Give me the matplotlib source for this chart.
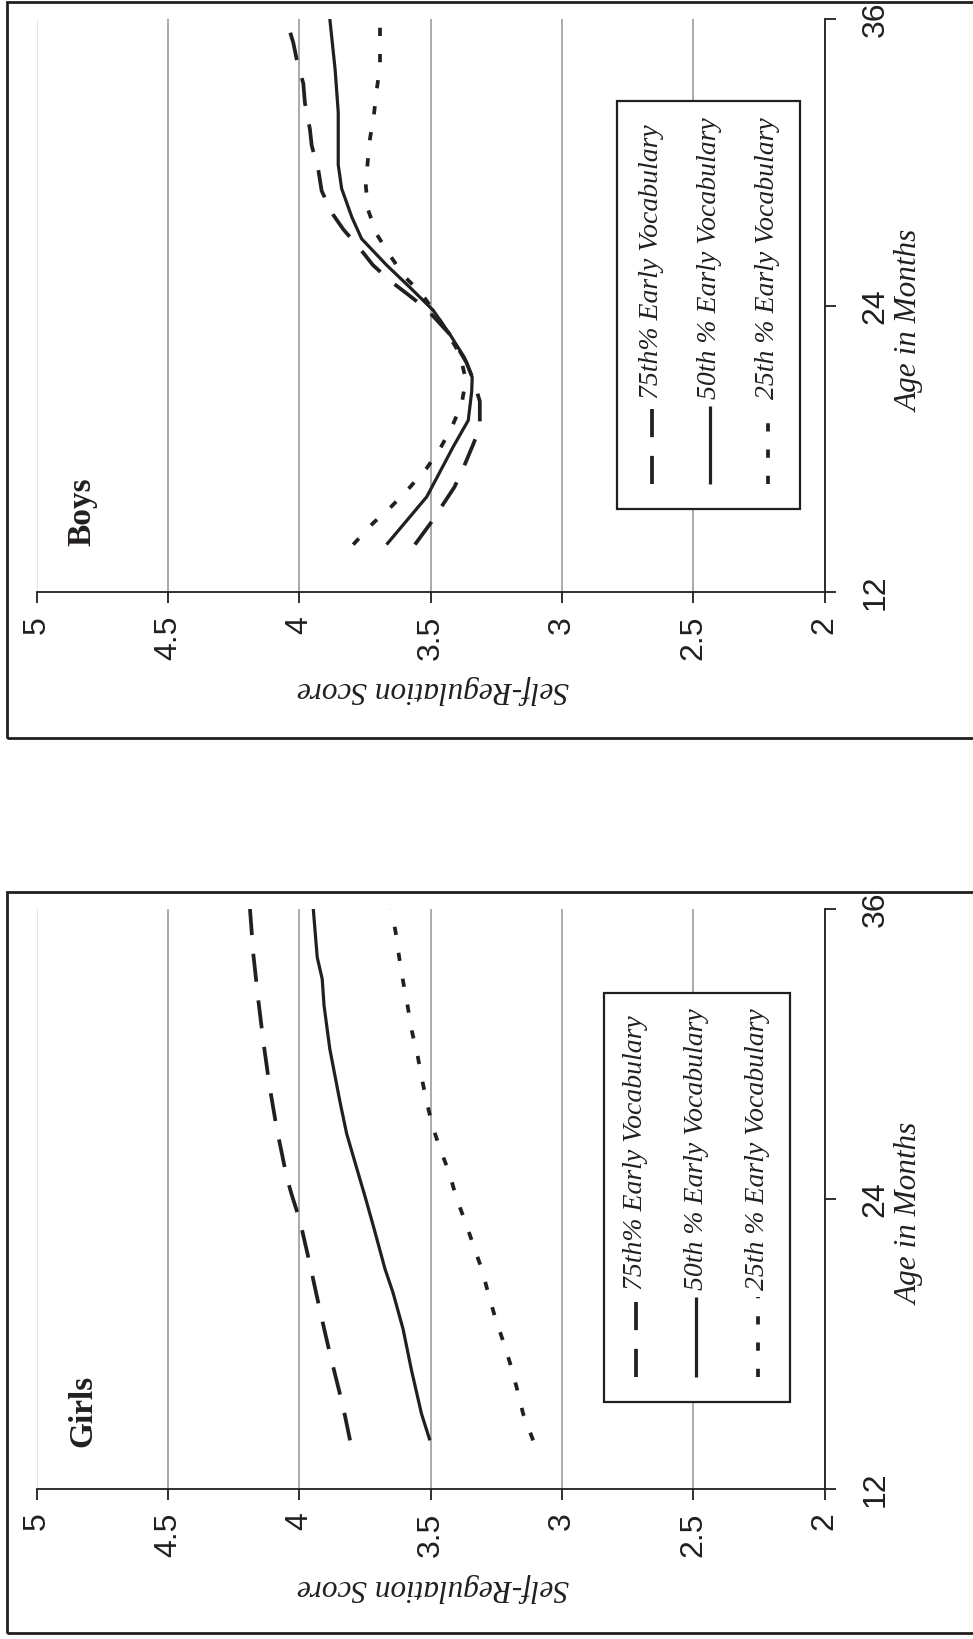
"""Self-regulation score by age, boys and girls, drawn rotated (page turned
sideways) like the printed figure."""

import matplotlib

matplotlib.use("Agg")

import matplotlib.pyplot as plt  # noqa: E402
from matplotlib import font_manager  # noqa: E402
from matplotlib.lines import Line2D  # noqa: E402
from matplotlib.patches import Rectangle  # noqa: E402

INK = "#231f20"
GRID = "#a4a4a4"
GRID_EDGE = "#e4e4e4"
SERIF = ["Liberation Serif", "DejaVu Serif"]

# narrow sans is closest to the printed digits; fall back if it is missing
_names = {f.name for f in font_manager.fontManager.ttflist}
SANS = "Liberation Sans Narrow" if "Liberation Sans Narrow" in _names else "Liberation Sans"
TICK_SIZE = 25 if SANS == "Liberation Sans Narrow" else 23

SCORE_TICKS = [5, 4.5, 4, 3.5, 3, 2.5, 2]
SCORE_LABELS = ["5", "4.5", "4", "3.5", "3", "2.5", "2"]
AGE_TICKS = [12, 24, 36]
AGE_LABELS = ["12", "24", "36"]
LEGEND_TEXT = [
    "75th% Early Vocabulary",
    "50th % Early Vocabulary",
    "25th % Early Vocabulary",
]

# --- boys (age in months, self-regulation score) ---
BOYS_75_AGE = [14.0, 14.9, 16.4, 17.2, 18.2, 18.9, 20.0, 20.9, 21.6, 22.8,
               23.85, 24.5, 25.0, 25.7, 26.3, 27.2, 27.8, 28.8, 29.7, 30.7,
               31.4, 32.5, 33.3, 34.3, 35.0, 36.0]
BOYS_75 = [3.56, 3.50, 3.41, 3.376, 3.338, 3.313, 3.313, 3.338, 3.363, 3.427,
           3.515, 3.59, 3.65, 3.72, 3.763, 3.833, 3.871, 3.915, 3.928, 3.953,
           3.96, 3.979, 3.985, 4.01, 4.023, 4.05]
BOYS_50_AGE = [14.0, 16.0, 18.1, 19.2, 20.4, 21.0, 21.8, 22.8, 23.8, 24.7,
               25.7, 26.8, 27.7, 28.9, 29.9, 32.1, 33.9, 36.0]
BOYS_50 = [3.668, 3.515, 3.414, 3.357, 3.344, 3.342, 3.37, 3.427, 3.49, 3.573,
           3.668, 3.763, 3.80, 3.839, 3.852, 3.852, 3.864, 3.884]
BOYS_25_AGE = [14.0, 14.9, 15.6, 16.4, 17.2, 18.0, 18.9, 19.9, 20.9, 22.0,
               23.6, 24.5, 25.2, 26.1, 27.0, 28.0, 29.0, 30.0, 31.0, 32.0,
               33.0, 34.0, 35.0, 36.0]
BOYS_25 = [3.795, 3.719, 3.649, 3.579, 3.515, 3.465, 3.42, 3.382, 3.366, 3.39,
           3.477, 3.534, 3.598, 3.655, 3.706, 3.738, 3.747, 3.74, 3.731, 3.716,
           3.706, 3.693, 3.693, 3.693]

# --- girls ---
GIRLS_75_AGE = [14.0, 15.0, 15.9, 17.6, 19.4, 21.3, 23.1, 24.2, 24.9, 26.9,
                28.7, 30.5, 32.2, 34.1, 36.0]
GIRLS_75 = [3.807, 3.826, 3.845, 3.884, 3.922, 3.96, 3.998, 4.03, 4.048, 4.086,
            4.114, 4.137, 4.156, 4.175, 4.188]
GIRLS_50_AGE = [14.0, 15.1, 16.9, 18.6, 20.1, 21.1, 22.9, 24.1, 24.8, 26.7,
                28.0, 30.2, 32.0, 33.1, 34.0, 36.0]
GIRLS_50 = [3.503, 3.535, 3.573, 3.605, 3.643, 3.674, 3.719, 3.75, 3.769, 3.82,
            3.845, 3.884, 3.906, 3.913, 3.932, 3.947]
GIRLS_25_AGE = [14.0, 15.1, 16.2, 17.2, 18.1, 19.1, 20.1, 21.1, 22.1, 23.1,
                24.0, 25.1, 26.0, 27.0, 28.0, 29.0, 30.0, 31.0, 32.0, 33.0,
                34.0, 35.0, 36.0]
GIRLS_25 = [3.11, 3.148, 3.173, 3.198, 3.224, 3.255, 3.281, 3.306, 3.338, 3.37,
            3.401, 3.43, 3.462, 3.493, 3.515, 3.534, 3.551, 3.573, 3.588, 3.605,
            3.62, 3.633, 3.649]

# line look per percentile: 75th dashed, 50th solid, 25th dotted
STYLES = [
    dict(lw=2.7, ls=(0, (7.5, 5.0)), dash_capstyle="butt"),
    dict(lw=2.3, ls="-", solid_capstyle="butt"),
    dict(lw=2.7, ls=(0, (2.2, 4.8)), dash_capstyle="butt"),
]


def draw_panel(ax, title, series, box, cols, title_y):
    ax.set_xlim(5, 2)
    ax.set_ylim(12, 36)

    ax.set_xticks(SCORE_TICKS, SCORE_LABELS)
    ax.set_yticks(AGE_TICKS, AGE_LABELS)
    ax.yaxis.tick_right()
    for side in ("top", "left"):
        ax.spines[side].set_visible(False)
    for side in ("bottom", "right"):
        ax.spines[side].set_color(INK)
        ax.spines[side].set_linewidth(1.3)

    ax.grid(axis="x", color=GRID, linewidth=1.3)
    ax.grid(axis="y", visible=False)
    ax.get_xgridlines()[0].set_color(GRID_EDGE)
    ax.set_axisbelow(True)

    ax.tick_params(axis="x", direction="out", length=8, width=1.3, color=INK,
                   labelsize=TICK_SIZE, labelcolor=INK, labelrotation=90, pad=9)
    ax.tick_params(axis="y", direction="out", length=8, width=1.3, color=INK,
                   labelsize=TICK_SIZE, labelcolor=INK, labelrotation=90, pad=18)
    for lbl in ax.get_xticklabels() + ax.get_yticklabels():
        lbl.set_fontfamily(SANS)
    for lbl in ax.get_yticklabels():
        lbl.set_va("center")

    for (ages, scores), style in zip(series, STYLES):
        ax.plot(scores, ages, color=INK, zorder=3, **style)

    # axis titles, placed as the turned page has them
    ax.text(0.503, -0.170, "Self-Regulation Score", transform=ax.transAxes,
            rotation=180, ha="center", va="center", fontsize=22.5,
            style="italic", family=SERIF, color=INK)
    ax.text(1.108, 0.474, "Age in Months", transform=ax.transAxes,
            rotation=90, ha="center", va="center", fontsize=22.5,
            style="italic", family=SERIF, color=INK)
    ax.text(0.058, title_y, title, transform=ax.transAxes, rotation=90,
            ha="center", va="center", fontsize=24, fontweight="bold",
            family=SERIF, color=INK)

    # legend box with turned entries
    x0, x1, y0, y1 = box
    ax.add_patch(Rectangle((x0, y0), x1 - x0, y1 - y0, transform=ax.transAxes,
                           facecolor="white", edgecolor=INK, linewidth=1.6,
                           zorder=4, clip_on=False))
    for xc, style, text in zip(cols, STYLES, LEGEND_TEXT):
        ax.add_line(Line2D([xc, xc], [y0 + 0.043, y0 + 0.180],
                           transform=ax.transAxes, color=INK, zorder=5,
                           **style))
        ax.text(xc, y0 + 0.192, text, transform=ax.transAxes, rotation=90,
                ha="center", va="bottom", fontsize=20, style="italic",
                family=SERIF, color=INK, zorder=5)


def main():
    fig = plt.figure(figsize=(9.73, 16.39), dpi=100)
    fig.patch.set_facecolor("white")

    ax_boys = fig.add_axes([0.0377, 0.6386, 0.8099, 0.3498])
    ax_girls = fig.add_axes([0.0377, 0.0917, 0.8099, 0.3537])

    draw_panel(
        ax_boys,
        "Boys",
        [(BOYS_75_AGE, BOYS_75), (BOYS_50_AGE, BOYS_50), (BOYS_25_AGE, BOYS_25)],
        (0.7364, 0.9687, 0.1453, 0.8575),
        (0.7808, 0.8544, 0.9280),
        0.140,
    )
    draw_panel(
        ax_girls,
        "Girls",
        [(GIRLS_75_AGE, GIRLS_75), (GIRLS_50_AGE, GIRLS_50),
         (GIRLS_25_AGE, GIRLS_25)],
        (0.7200, 0.9560, 0.1500, 0.8550),
        (0.7605, 0.8367, 0.9150),
        0.134,
    )

    # outer frames around each panel (right side runs off the page)
    for y0, y1 in ((0.5499, 0.9988), (0.0035, 0.4560)):
        fig.add_artist(Rectangle((0.0075, y0), 1.0, y1 - y0,
                                 transform=fig.transFigure, fill=False,
                                 edgecolor=INK, linewidth=2.0, clip_on=False))

    fig.savefig("out.png", dpi=100, facecolor="white")


if __name__ == "__main__":
    main()
